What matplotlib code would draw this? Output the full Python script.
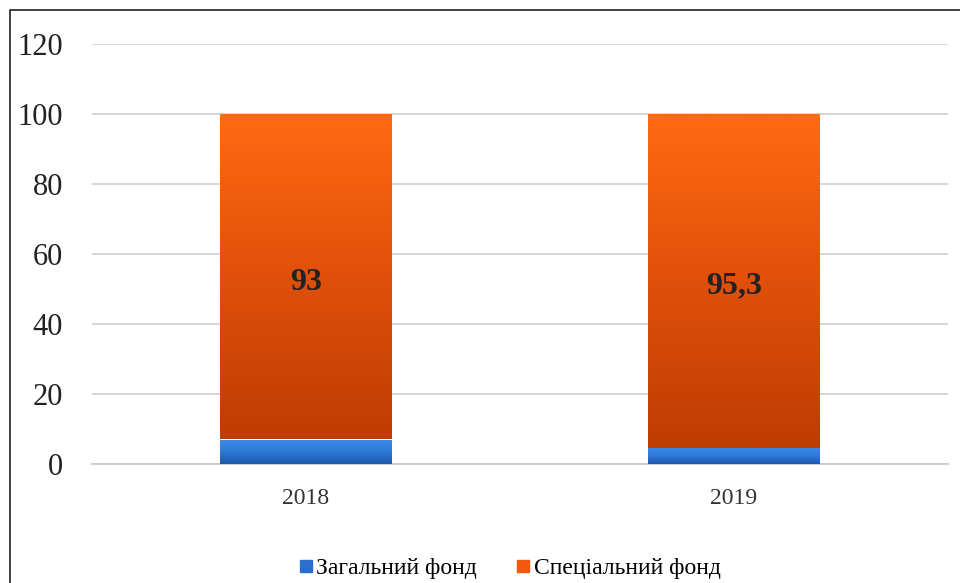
import numpy as np
import matplotlib.pyplot as plt
from matplotlib.colors import LinearSegmentedColormap
from matplotlib.patches import Rectangle
from matplotlib.lines import Line2D

years = ["2018", "2019"]
general_fund = [7.0, 4.7]
special_fund = [93.0, 95.3]
special_labels = ["93", "95,3"]
legend_labels = ["Загальний фонд", "Спеціальний фонд"]
y_ticks = [0, 20, 40, 60, 80, 100, 120]

plt.rcParams["font.family"] = ["Liberation Serif", "DejaVu Serif"]

ORANGE_CMAP = LinearSegmentedColormap.from_list("orange", ["#bf3c02", "#e0500a", "#ff6a12"])
BLUE_CMAP = LinearSegmentedColormap.from_list("blue", ["#1d58ab", "#2f7ad8", "#3d8ce8"])


def gradient_bars(ax, bars, cmap):
    grad = np.linspace(0, 1, 256).reshape(-1, 1)
    for bar in bars:
        x0, y0 = bar.get_x(), bar.get_y()
        w, h = bar.get_width(), bar.get_height()
        im = ax.imshow(
            grad,
            extent=(x0, x0 + w, y0, y0 + h),
            origin="lower",
            cmap=cmap,
            aspect="auto",
            zorder=bar.get_zorder(),
        )
        im.set_clip_path(bar)
        bar.set_facecolor("none")


fig = plt.figure(figsize=(9.6, 5.83), dpi=100)
fig.patches.append(
    Rectangle((10 / 960, -0.1), 1.2, 1 - 10 / 583 + 0.1, transform=fig.transFigure,
              fill=False, edgecolor="#222222", linewidth=1.2)
)

ax = fig.add_axes([92 / 960, 1 - 464 / 583, 856 / 960, 420 / 583])

x = np.arange(len(years))
width = 0.40

b1 = ax.bar(x, general_fund, width, color="#2f7ad8", zorder=3, linewidth=0)
b2 = ax.bar(x, special_fund, width, bottom=general_fund, color="#e0500a", zorder=3, linewidth=0)
gradient_bars(ax, b1, BLUE_CMAP)
gradient_bars(ax, b2, ORANGE_CMAP)

for xi, g, s, lab in zip(x, general_fund, special_fund, special_labels):
    ax.annotate(lab, (xi, g + s / 2), xytext=(0, -4), textcoords="offset points",
                ha="center", va="center", fontsize=23, fontweight="bold",
                color="#222222", zorder=5)

ax.set_xlim(-0.5, 1.5)
ax.set_ylim(0, 120)
ax.set_yticks(y_ticks)
ax.set_yticklabels([str(t) for t in y_ticks], fontsize=22, color="#222222")
ax.set_xticks(x)
ax.set_xticklabels(years, fontsize=17, color="#333333")
ax.tick_params(axis="y", length=0, pad=21)
ax.tick_params(axis="x", length=0, pad=17)
ax.grid(axis="y", color="#d0d0d0", linewidth=1.2, zorder=0)
for side in ["top", "right", "left"]:
    ax.spines[side].set_visible(False)
ax.spines["bottom"].set_color("#c8c8c8")
ax.spines["bottom"].set_linewidth(1.2)

handles = [
    Line2D([], [], marker="s", linestyle="none", markersize=8, color="#2a6fcc"),
    Line2D([], [], marker="s", linestyle="none", markersize=8, color="#f05a10"),
]
fig.legend(handles, legend_labels, loc="center", bbox_to_anchor=(0.529, 1 - 568 / 583),
           ncol=2, frameon=False, fontsize=17, handletextpad=0.0, columnspacing=1.5,
           handlelength=0.9)

fig.savefig("out.png", dpi=100, facecolor="white")
